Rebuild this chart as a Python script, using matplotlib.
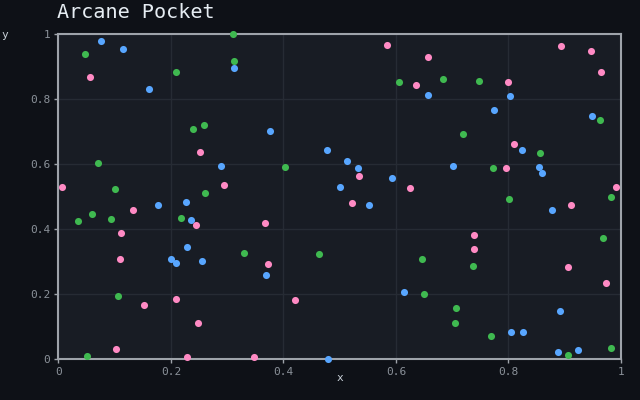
import numpy as np
import matplotlib
matplotlib.use("Agg")
import matplotlib.pyplot as plt

# point data
pink_x = [0.057, 0.251, 0.007, 0.295, 0.584, 0.636, 0.534, 0.625, 0.657, 0.799, 0.893, 0.947,
          0.964, 0.810, 0.796, 0.991, 0.133, 0.245, 0.112, 0.110, 0.209, 0.153, 0.248, 0.103,
          0.229, 0.522, 0.367, 0.373, 0.421, 0.348, 0.911, 0.739, 0.739, 0.906, 0.973]
pink_y = [0.867, 0.636, 0.528, 0.534, 0.965, 0.842, 0.562, 0.525, 0.928, 0.851, 0.962, 0.947,
          0.882, 0.661, 0.587, 0.528, 0.458, 0.411, 0.387, 0.307, 0.184, 0.165, 0.110, 0.030,
          0.005, 0.479, 0.418, 0.291, 0.181, 0.005, 0.473, 0.381, 0.338, 0.282, 0.233]

green_x = [0.048, 0.209, 0.311, 0.312, 0.240, 0.259, 0.071, 0.101, 0.261, 0.606, 0.403, 0.684,
           0.748, 0.963, 0.719, 0.856, 0.772, 0.060, 0.035, 0.094, 0.218, 0.106, 0.050, 0.330,
           0.463, 0.801, 0.982, 0.968, 0.646, 0.737, 0.650, 0.707, 0.705, 0.769, 0.906, 0.982]
green_y = [0.937, 0.882, 0.999, 0.917, 0.707, 0.719, 0.602, 0.522, 0.510, 0.851, 0.590, 0.861,
           0.854, 0.734, 0.691, 0.633, 0.587, 0.445, 0.424, 0.430, 0.433, 0.193, 0.008, 0.325,
           0.322, 0.491, 0.498, 0.371, 0.307, 0.285, 0.199, 0.156, 0.110, 0.070, 0.011, 0.033]

blue_x = [0.076, 0.114, 0.161, 0.312, 0.289, 0.376, 0.478, 0.513, 0.533, 0.593, 0.501, 0.657,
          0.803, 0.774, 0.948, 0.824, 0.701, 0.854, 0.860, 0.177, 0.227, 0.236, 0.229, 0.201,
          0.209, 0.256, 0.552, 0.369, 0.614, 0.479, 0.877, 0.891, 0.804, 0.826, 0.888, 0.923]
blue_y = [0.977, 0.953, 0.830, 0.894, 0.593, 0.701, 0.642, 0.608, 0.587, 0.556, 0.528, 0.811,
          0.808, 0.765, 0.747, 0.642, 0.593, 0.590, 0.571, 0.473, 0.482, 0.427, 0.344, 0.307,
          0.294, 0.301, 0.473, 0.258, 0.205, 0.000, 0.458, 0.147, 0.082, 0.082, 0.021, 0.027]

ticks = [0, 0.2, 0.4, 0.6, 0.8, 1]
tick_labels = ["0", "0.2", "0.4", "0.6", "0.8", "1"]

plt.rcParams["font.family"] = ["DejaVu Sans Mono"]

fig = plt.figure(figsize=(6.4, 4.0), dpi=100, facecolor="#0e1117")
ax = fig.add_axes([58.4 / 640, 41 / 400, 562.6 / 640, 325 / 400])
ax.set_facecolor("#181c24")

ax.scatter(green_x, green_y, s=26, color="#3fb950", marker="o", zorder=3, clip_on=False, linewidths=0)
ax.scatter(blue_x, blue_y, s=26, color="#58a6ff", marker="o", zorder=3, clip_on=False, linewidths=0)
ax.scatter(pink_x, pink_y, s=26, color="#ff8ac4", marker="o", zorder=3, clip_on=False, linewidths=0)

ax.set_xlim(0, 1)
ax.set_ylim(0, 1)
ax.set_xticks(ticks)
ax.set_xticklabels(tick_labels)
ax.set_yticks(ticks)
ax.set_yticklabels(tick_labels)
ax.grid(True, color="#262b34", linewidth=1)
ax.set_axisbelow(True)
for s in ax.spines.values():
    s.set_color("#9ea3aa")
    s.set_linewidth(1.5)
ax.tick_params(colors="#9ea3aa", labelcolor="#8b929a", labelsize=8, length=3, width=1, pad=3)

fig.text(340 / 640, 1 - 378 / 400, "x", color="#c9d1d9", fontsize=8, ha="center", va="center")
fig.text(5 / 640, 1 - 35 / 400, "y", color="#c9d1d9", fontsize=8, ha="center", va="center")
fig.text(57 / 640, 1 - 13 / 400, "Arcane Pocket", color="#e6edf3", fontsize=14.5, ha="left", va="center")

fig.savefig("out.png", dpi=100, facecolor=fig.get_facecolor())
